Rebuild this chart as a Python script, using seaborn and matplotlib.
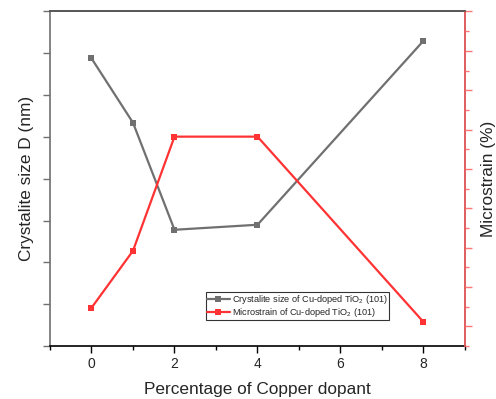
import matplotlib
matplotlib.use("Agg")
import matplotlib.pyplot as plt
import seaborn as sns
import pandas as pd
from matplotlib.ticker import MultipleLocator, NullFormatter

dopant = [0, 1, 2, 4, 8]
crystallite = [3.44, 2.67, 1.39, 1.45, 3.65]
microstrain = [1.47, 2.92, 5.82, 5.82, 1.11]

sns.set_theme(style="white")
plt.rcParams['font.family'] = ['Liberation Sans', 'DejaVu Sans']
plt.rcParams['mathtext.fontset'] = 'custom'
plt.rcParams['mathtext.rm'] = 'Liberation Sans'

gray = "#707070"
red = "#FF3333"

fig = plt.figure(figsize=(4.96, 3.99), dpi=100)
ax = fig.add_axes([0.1008, 0.1328, 0.9375 - 0.1008, 0.9712 - 0.1328])
ax2 = ax.twinx()

df = pd.DataFrame({"x": dopant, "c": crystallite, "m": microstrain})
sns.lineplot(data=df, x="x", y="c", ax=ax, color=gray, lw=1.6, marker="s",
             markersize=5, markeredgewidth=0, label="Crystalite size of Cu-doped TiO$_\\mathrm{2}$ (101)", legend=False)
sns.lineplot(data=df, x="x", y="m", ax=ax2, color=red, lw=1.6, marker="s",
             markersize=5, markeredgewidth=0, label="Microstrain of Cu-doped TiO$_\\mathrm{2}$ (101)", legend=False)

ax.set_xlim(-1, 9)
ax.set_ylim(0, 4)
ax2.set_ylim(0.5, 9)

ax.xaxis.set_major_locator(MultipleLocator(2))
ax.xaxis.set_minor_locator(MultipleLocator(1))
ax.yaxis.set_major_locator(MultipleLocator(1))
ax.yaxis.set_minor_locator(MultipleLocator(0.5))
ax.yaxis.set_major_formatter(NullFormatter())
ax2.yaxis.set_major_locator(MultipleLocator(1))
ax2.yaxis.set_minor_locator(MultipleLocator(0.5))
ax2.yaxis.set_major_formatter(NullFormatter())

ax.tick_params(axis="x", which="major", direction="out", length=5, width=1, color="black",
               bottom=True, top=False, labelsize=10, pad=3)
ax.tick_params(axis="x", which="minor", direction="out", length=3, width=1, color="black",
               bottom=True, top=False)
ax2.tick_params(axis="x", which="major", direction="in", length=5, width=1, color="black",
                top=True, bottom=False, labeltop=False, labelbottom=False)
ax2.tick_params(axis="x", which="minor", direction="in", length=3, width=1, color="black",
                top=True, bottom=False)
ax.tick_params(axis="y", which="major", direction="out", length=5, width=1, color=gray, left=True)
ax.tick_params(axis="y", which="minor", direction="out", length=5, width=1, color=gray, left=True)
ax2.tick_params(axis="y", which="major", direction="out", length=5, width=1, color="#FF7777", right=True)
ax2.tick_params(axis="y", which="minor", direction="out", length=3, width=1, color="#FF7777", right=True)

for a in (ax, ax2):
    for s in a.spines.values():
        s.set_linewidth(1.2)
ax.spines["left"].set_color(gray)
ax.spines["bottom"].set_color("black")
ax.spines["top"].set_color("#555555")
ax2.spines["right"].set_color("#FF6666")
ax2.spines["left"].set_visible(False)
ax2.spines["top"].set_color("#555555")
ax2.spines["bottom"].set_visible(False)

ax.set_xlabel("Percentage of Copper dopant", fontsize=12.4, labelpad=8)
ax.set_ylabel("Crystalite size D (nm)", fontsize=12.4, labelpad=3)
ax2.set_ylabel("Microstrain (%)", fontsize=12.4, labelpad=3)

h1, l1 = ax.get_legend_handles_labels()
h2, l2 = ax2.get_legend_handles_labels()
leg = ax2.legend(h1 + h2, l1 + l2, loc="upper left", bbox_to_anchor=(206 / 496, 1 - 292 / 399),
                 bbox_transform=fig.transFigure, fontsize=6.6, frameon=True, fancybox=False,
                 handlelength=2.5, handletextpad=0.2, borderpad=0.1, labelspacing=0.0,
                 borderaxespad=0, handleheight=0.5)
leg.get_frame().set_edgecolor("black")
leg.get_frame().set_linewidth(0.8)

fig.savefig("out.png", dpi=100)
